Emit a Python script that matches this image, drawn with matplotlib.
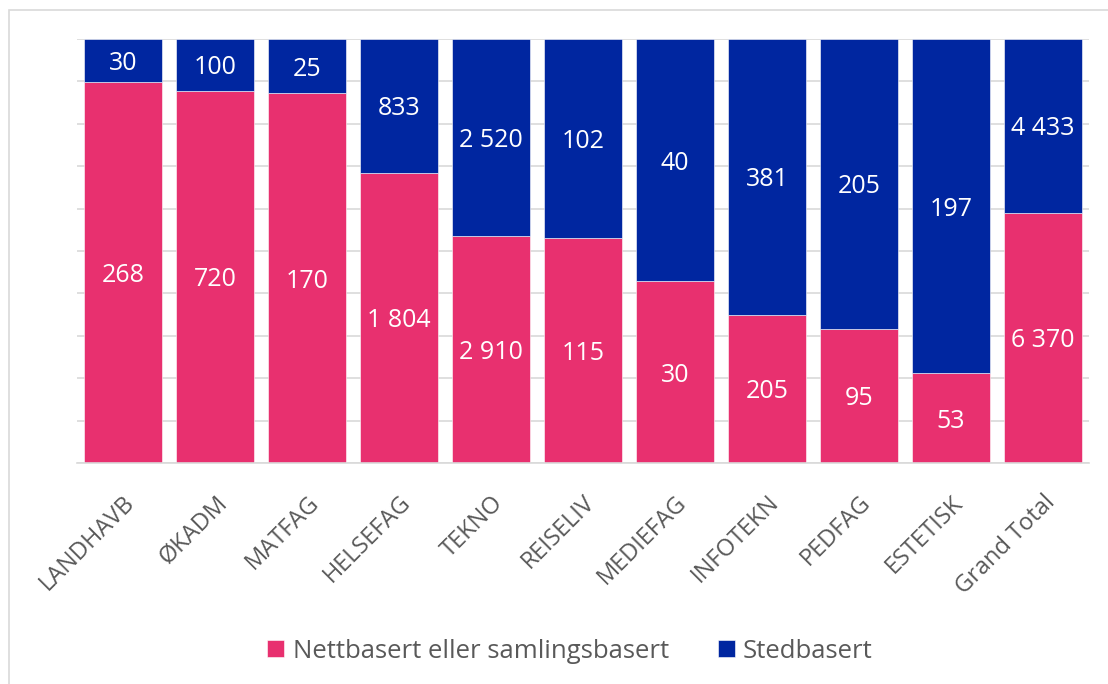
import matplotlib.pyplot as plt
import numpy as np
from matplotlib.patches import Rectangle
from matplotlib.transforms import offset_copy

plt.rcParams['font.family'] = ['Open Sans', 'DejaVu Sans']

# data
categories = ['LANDHAVB', 'ØKADM', 'MATFAG', 'HELSEFAG', 'TEKNO', 'REISELIV',
              'MEDIEFAG', 'INFOTEKN', 'PEDFAG', 'ESTETISK', 'Grand Total']
nett = [268, 720, 170, 1804, 2910, 115, 30, 205, 95, 53, 6370]
sted = [30, 100, 25, 833, 2520, 102, 40, 381, 205, 197, 4433]
series_names = ['Nettbasert eller samlingsbasert', 'Stedbasert']

pink = '#E8306F'
blue = '#0026A0'

nett_a = np.array(nett, dtype=float)
sted_a = np.array(sted, dtype=float)
tot = nett_a + sted_a
p_nett = nett_a / tot
p_sted = sted_a / tot

def fmt(v):
    return '{:,}'.format(v).replace(',', ' ')

fig = plt.figure(figsize=(11.08, 6.84), dpi=100)
# thin frame round the chart (only top and left edges visible in the picture)
fig.patches.append(Rectangle((9/1108, -0.1), 1.2, 1.1 - 10/684, transform=fig.transFigure,
                             fill=False, edgecolor='#d9d9d9', lw=1.2))
ax = fig.add_axes([77/1108, 1 - 463/684, 1012/1108, 424/684])

x = np.arange(len(categories))
w = 0.837
ax.bar(x, p_nett, w, color=pink, edgecolor='white', linewidth=0.4, label=series_names[0], zorder=2)
ax.bar(x, p_sted, w, bottom=p_nett, color=blue, edgecolor='white', linewidth=0.4,
       label=series_names[1], zorder=2)

# labels sit a few pixels lower in the original
tr = offset_copy(ax.transData, fig=fig, x=0, y=-3, units='dots')
for i in range(len(categories)):
    ax.text(x[i], p_nett[i] / 2, fmt(nett[i]), ha='center', va='center',
            color='white', fontsize=18, zorder=3, transform=tr)
    ax.text(x[i], p_nett[i] + p_sted[i] / 2, fmt(sted[i]), ha='center', va='center',
            color='white', fontsize=18, zorder=3, transform=tr)

ax.set_xlim(-0.5, len(categories) - 0.5)
ax.set_ylim(0, 1)
ax.set_yticks(np.arange(0, 1.01, 0.1))
ax.set_yticklabels([])
ax.tick_params(axis='y', length=0)
ax.grid(axis='y', color='#d9d9d9', lw=1.2, zorder=0)
for s in ['left', 'right', 'top']:
    ax.spines[s].set_visible(False)
ax.spines['bottom'].set_color('#d9d9d9')
ax.spines['bottom'].set_linewidth(1.2)

ax.set_xticks(x)
ax.set_xticklabels(categories, rotation=45, ha='right', rotation_mode='anchor',
                   fontsize=17, color='#595959')
ax.tick_params(axis='x', length=0, pad=20)

leg = fig.legend(loc='center', bbox_to_anchor=(570/1108, 1 - 651/684), ncol=2,
                 frameon=False, fontsize=18.5, handlelength=0.66, handleheight=0.66,
                 handletextpad=0.32, columnspacing=1.9)
for t in leg.get_texts():
    t.set_color('#595959')

fig.savefig('out.png', dpi=100)
